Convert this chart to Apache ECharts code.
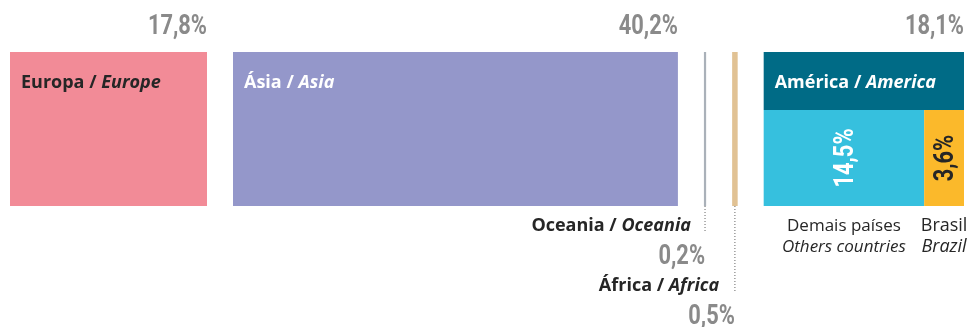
<!DOCTYPE html>
<html>
<head>
<meta charset="utf-8">
<script src="https://cdn.jsdelivr.net/npm/echarts@6/dist/echarts.min.js"></script>
<style>
html,body{margin:0;padding:0;background:#fff;}
#chart{width:969px;height:327px;}
</style>
</head>
<body>
<div id="chart"></div>
<script>
// ---- data ----
const regionsPt = ['Europa', 'Ásia', 'Oceania', 'África', 'América'];
const regionsEn = ['Europe', 'Asia', 'Oceania', 'Africa', 'America'];
const regionShares = [17.8, 40.2, 0.2, 0.5, 18.1];
const americaPt = ['Demais países', 'Brasil'];
const americaEn = ['Others countries', 'Brazil'];
const americaShares = [14.5, 3.6];

// ---- style / layout ----
const regionColors = ['#F28B97', '#9497CA', '#AAB1B9', '#E1C294', '#006B86'];
const regionNameColors = ['#262626', '#ffffff', '#262626', '#262626', '#ffffff'];
const subColors = ['#36C0DE', '#FBB92B'];
const subPctColors = ['#ffffff', '#262626'];
const GAP = 2.35;          // gap between blocks, in share units
const HEADER_Y = 62.3;     // America header split (0-100 scale)
const PCT_FONT = 'Roboto,sans-serif';
const PCT_SIZE = 28;
const PCT_SCALE = 0.78;
const TXT_FONT = '"Open Sans",sans-serif';
const NAME_SIZE = 18;
const fmt = v => v.toFixed(1).replace('.', ',') + '%';

const blocks = [];
let cursor = 0;
let smallLevel = 0;
regionShares.forEach((s, i) => {
  const x0 = cursor, x1 = cursor + s;
  const small = s < 1;
  if (i === regionsPt.length - 1) {
    blocks.push({ value: [x0, x1, HEADER_Y, 100], kind: 'region', i, small: false });
    let c = x0;
    americaShares.forEach((a, j) => {
      blocks.push({ value: [c, c + a, 0, HEADER_Y], kind: 'sub', i: j });
      c += a;
    });
  } else {
    blocks.push({ value: [x0, x1, 0, 100], kind: 'region', i, small, level: small ? smallLevel++ : 0 });
  }
  cursor = x1 + GAP;
});
const total = cursor - GAP;

function nameRich(pt, en, color, align) {
  return {
    text: '{a|' + pt + ' / }{b|' + en + '}',
    align: align, verticalAlign: 'middle',
    rich: {
      a: { fontFamily: TXT_FONT, fontWeight: 'bold', fontSize: NAME_SIZE, fill: color },
      b: { fontFamily: TXT_FONT, fontWeight: 'bold', fontStyle: 'italic', fontSize: NAME_SIZE, fill: color }
    }
  };
}

function pctText(x, y, text, align, color, rot) {
  return {
    type: 'text', x: x, y: y, rotation: rot || 0, scaleX: PCT_SCALE,
    style: { text: text, align: align, verticalAlign: 'middle',
      fontFamily: PCT_FONT, fontWeight: 'bold', fontSize: PCT_SIZE, fill: color }
  };
}

function renderItem(params, api) {
  const it = blocks[params.dataIndex];
  const pTL = api.coord([api.value(0), api.value(3)]);
  const pBR = api.coord([api.value(1), api.value(2)]);
  const x0 = pTL[0], y0 = pTL[1], x1 = pBR[0], y1 = pBR[1];
  const xc = (x0 + x1) / 2;
  const children = [{
    type: 'rect',
    shape: { x: x0, y: y0, width: x1 - x0, height: y1 - y0 },
    style: { fill: it.kind === 'region' ? regionColors[it.i] : subColors[it.i] }
  }];
  if (it.kind === 'region') {
    const i = it.i;
    if (!it.small) {
      const s = nameRich(regionsPt[i], regionsEn[i], regionNameColors[i], 'left');
      children.push({ type: 'text', x: x0 + 11, y: y0 + 31, style: s });
      children.push(pctText(x1, y0 - 25, fmt(regionShares[i]), 'right', '#8A8A8A'));
    } else {
      const off = it.level * 60;
      children.push({ type: 'line', shape: { x1: xc, y1: y1, x2: xc, y2: y1 + 26 + off },
        style: { stroke: '#666', lineWidth: 1, lineDash: [1, 2] } });
      const s = nameRich(regionsPt[i], regionsEn[i], '#262626', 'right');
      children.push({ type: 'text', x: x0 - 13, y: y1 + 20 + off, style: s });
      children.push(pctText(xc, y1 + 51 + off, fmt(regionShares[i]), 'right', '#8A8A8A'));
    }
  } else {
    const j = it.i;
    children.push(pctText(xc + 2, (y0 + y1) / 2, fmt(americaShares[j]), 'center', subPctColors[j], Math.PI / 2));
    const fs = j === 1 ? 18 : 17;
    children.push({ type: 'text', x: xc, y: y1 + 20, style: {
      text: americaPt[j], align: 'center', verticalAlign: 'middle',
      fontFamily: TXT_FONT, fontSize: fs, fill: '#262626' } });
    children.push({ type: 'text', x: xc, y: y1 + 41, style: {
      text: americaEn[j], align: 'center', verticalAlign: 'middle',
      fontFamily: TXT_FONT, fontStyle: 'italic', fontSize: fs, fill: '#262626' } });
  }
  return { type: 'group', children };
}

const chart = echarts.init(document.getElementById('chart'));
chart.setOption({
  animation: false,
  grid: { left: 10, right: 5, top: 52, bottom: 121 },
  xAxis: { type: 'value', min: 0, max: total, show: false },
  yAxis: { type: 'value', min: 0, max: 100, show: false },
  series: [{
    type: 'custom',
    renderItem: renderItem,
    clip: false,
    encode: { x: [0, 1], y: [2, 3] },
    data: blocks.map(b => b.value)
  }]
});
</script>
</body>
</html>
